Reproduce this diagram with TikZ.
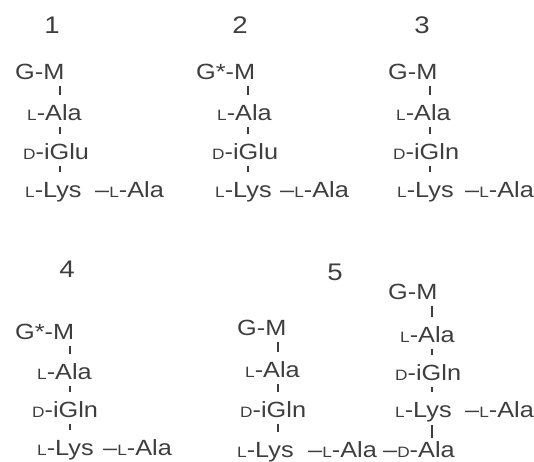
\documentclass[tikz,border=0pt]{standalone}
\usepackage{fontspec}
\setmainfont[FakeStretch=1.15]{Liberation Sans}
\usetikzlibrary{calc}
\definecolor{inkgray}{RGB}{62,62,62}
\newcommand{\lform}{{\fontsize{15}{15}\selectfont L}}
\newcommand{\dform}{{\fontsize{15}{15}\selectfont D}}
\tikzset{
  res/.style={anchor=west, inner sep=0pt, text height=15.5pt, text depth=0pt,
              font=\fontsize{22}{22}\selectfont, text=inkgray},
  num/.style={inner sep=0pt, font=\fontsize{24}{24}\selectfont, text=inkgray},
  bond/.style={draw=inkgray, line width=1.2pt, shorten <=6pt, shorten >=10pt},
}
\begin{document}
\begin{tikzpicture}[x=1pt, y=-1pt]
  \useasboundingbox (0,0) rectangle (534,461);

  % --- Structure 1 ---
  \node[num] (n1) at (52,25) {1};
  \node[res] (gm1) at (15,72) {G-M};
  \node[res] (ala1) at (27,113) {\lform-Ala};
  \node[res] (glu1) at (23,152) {\dform-iGlu};
  \node[res] (lys1) at (25,190) {\lform-Lys};
  \node[res] (br1) at (95,190) {--\lform-Ala};
  \coordinate (ax1) at (60,0);
  \draw[bond] (gm1.south -| ax1) -- (ala1.north -| ax1);
  \draw[bond] (ala1.south -| ax1) -- (glu1.north -| ax1);
  \draw[bond] (glu1.south -| ax1) -- (lys1.north -| ax1);

  % --- Structure 2 ---
  \node[num] (n2) at (240,25) {2};
  \node[res] (gm2) at (196,72) {G*-M};
  \node[res] (ala2) at (217,113) {\lform-Ala};
  \node[res] (glu2) at (212,152) {\dform-iGlu};
  \node[res] (lys2) at (215,190) {\lform-Lys};
  \node[res] (br2) at (280,190) {--\lform-Ala};
  \coordinate (ax2) at (248,0);
  \draw[bond] (gm2.south -| ax2) -- (ala2.north -| ax2);
  \draw[bond] (ala2.south -| ax2) -- (glu2.north -| ax2);
  \draw[bond] (glu2.south -| ax2) -- (lys2.north -| ax2);

  % --- Structure 3 ---
  \node[num] (n3) at (422,25) {3};
  \node[res] (gm3) at (388,72) {G-M};
  \node[res] (ala3) at (396,113) {\lform-Ala};
  \node[res] (gln3) at (393,152) {\dform-iGln};
  \node[res] (lys3) at (397,190) {\lform-Lys};
  \node[res] (br3) at (465,190) {--\lform-Ala};
  \coordinate (ax3) at (430,0);
  \draw[bond] (gm3.south -| ax3) -- (ala3.north -| ax3);
  \draw[bond] (ala3.south -| ax3) -- (gln3.north -| ax3);
  \draw[bond] (gln3.south -| ax3) -- (lys3.north -| ax3);

  % --- Structure 4 ---
  \node[num] (n4) at (67,269) {4};
  \node[res] (gm4) at (15,332) {G*-M};
  \node[res] (ala4) at (37,372) {\lform-Ala};
  \node[res] (gln4) at (32,410) {\dform-iGln};
  \node[res] (lys4) at (37,448) {\lform-Lys};
  \node[res] (br4) at (103,448) {--\lform-Ala};
  \coordinate (ax4) at (70,0);
  \draw[bond] (gm4.south -| ax4) -- (ala4.north -| ax4);
  \draw[bond] (ala4.south -| ax4) -- (gln4.north -| ax4);
  \draw[bond] (gln4.south -| ax4) -- (lys4.north -| ax4);

  % --- Structure 5, left strand ---
  \node[num] (n5) at (335,272) {5};
  \node[res] (gm5a) at (237,328) {G-M};
  \node[res] (ala5a) at (245,370) {\lform-Ala};
  \node[res] (gln5a) at (240,410) {\dform-iGln};
  \node[res] (lys5a) at (237,450) {\lform-Lys};
  \node[res] (br5a) at (308,450) {--\lform-Ala};
  \node[res] (dala5) at (383,450) {--\dform-Ala};
  \coordinate (ax5a) at (278,0);
  \draw[bond] (gm5a.south -| ax5a) -- (ala5a.north -| ax5a);
  \draw[bond] (ala5a.south -| ax5a) -- (gln5a.north -| ax5a);
  \draw[bond] (gln5a.south -| ax5a) -- (lys5a.north -| ax5a);

  % --- Structure 5, right strand ---
  \node[res] (gm5b) at (388,292) {G-M};
  \node[res] (ala5b) at (400,335) {\lform-Ala};
  \node[res] (gln5b) at (395,373) {\dform-iGln};
  \node[res] (lys5b) at (395,410) {\lform-Lys};
  \node[res] (br5b) at (465,410) {--\lform-Ala};
  \coordinate (ax5b) at (432,0);
  \draw[bond] (gm5b.south -| ax5b) -- (ala5b.north -| ax5b);
  \draw[bond] (ala5b.south -| ax5b) -- (gln5b.north -| ax5b);
  \draw[bond] (gln5b.south -| ax5b) -- (lys5b.north -| ax5b);
  \draw[bond, shorten <=7pt, shorten >=4pt] (lys5b.south -| ax5b) -- (dala5.north -| ax5b);

\end{tikzpicture}
\end{document}
